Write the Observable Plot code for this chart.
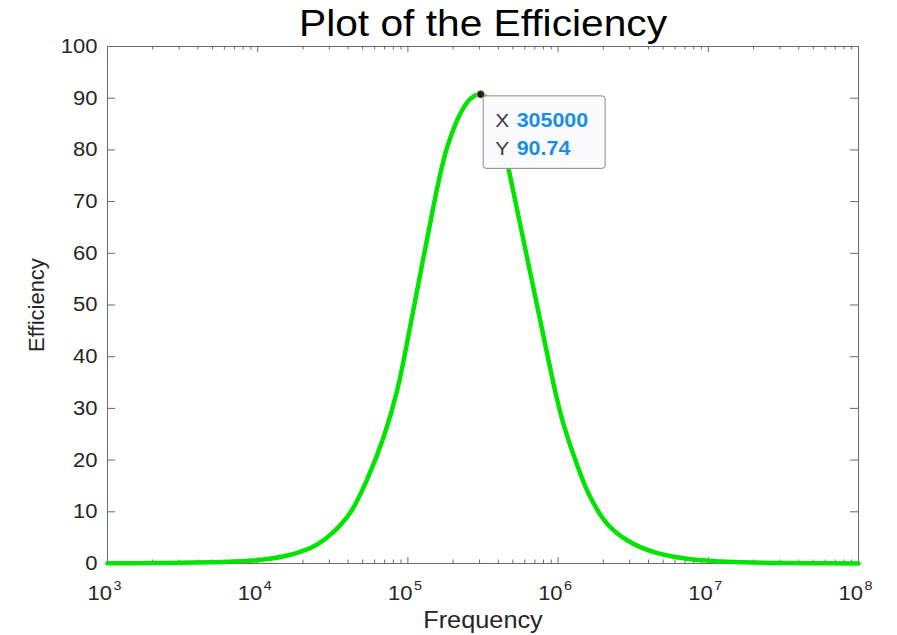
<!DOCTYPE html>
<html><head><meta charset="utf-8">
<script src="https://cdn.jsdelivr.net/npm/d3@7"></script>
<script src="https://cdn.jsdelivr.net/npm/@observablehq/plot@0.6"></script>
<style>html,body{margin:0;padding:0;background:#fff}</style>
</head><body><div id="chart"></div>
<script>
// ---- data ----
const frequency = [1000, 2000, 3000, 5000, 7000, 10000, 15000, 19000, 25000, 32000,
  41500, 53600, 69200, 85000, 107000, 131000, 161000, 183000, 224000, 263000,
  305000, 331000, 363000, 398000, 437000, 470000, 603000, 748000, 962000, 1090000,
  1340000, 1640000, 2120000, 2880000, 4340000, 7240000, 12000000, 20000000, 40000000, 100000000];
const efficiency = [0.03, 0.08, 0.13, 0.25, 0.4, 0.65, 1.4, 2.2, 3.7, 6.1,
  9.9, 16.3, 24.6, 33.6, 48.0, 61.2, 74.2, 80.6, 87.1, 90.0,
  90.74, 90.2, 88.3, 85.0, 80.5, 76.1, 61.0, 48.0, 33.0, 26.8,
  19.0, 12.8, 7.7, 4.5, 2.2, 0.9, 0.4, 0.18, 0.07, 0.02];
const yTicks = [0, 10, 20, 30, 40, 50, 60, 70, 80, 90, 100];
const xTicks = [1e3, 1e4, 1e5, 1e6, 1e7, 1e8];
const xTickBase = ["10", "10", "10", "10", "10", "10"];
const xTickExp = ["3", "4", "5", "6", "7", "8"];
const minorMultipliers = [2, 3, 4, 5, 6, 7, 8, 9];
const tipPoint = [{x: 305000, y: 90.74, xs: "305000", ys: "90.74"}];
const titleText = "Plot of the Efficiency";
const xLabel = "Frequency";
const yLabel = "Efficiency";

const data = frequency.map((f, i) => ({f, e: efficiency[i]}));
const xMinor = [];
xTicks.slice(0, -1).forEach(d => minorMultipliers.forEach(m => xMinor.push(d * m)));
const xLabels = xTicks.map((v, i) => ({v, base: xTickBase[i], exp: xTickExp[i]}));

// ---- layout ----
const W = 897, H = 635, mL = 107, mR = 39, mT = 46, mB = 72;
const pw = W - mL - mR, ph = H - mT - mB;
const axisColor = "#6a6a6a";
const textColor = "#262626";
const font = "'Liberation Sans', Arial, Helvetica, sans-serif";
const stretch = 1.1; // reference text is slightly wider than tall

const chart = Plot.plot({
  width: W, height: H,
  marginLeft: mL, marginRight: mR, marginTop: mT, marginBottom: mB,
  style: {fontFamily: font, fontSize: "20px", color: textColor, background: "#fff", overflow: "visible"},
  x: {type: "log", domain: [1e3, 1e8], axis: null},
  y: {domain: [0, 100], axis: null},
  marks: [
    Plot.frame({stroke: axisColor, strokeWidth: 1}),
    // inward ticks (MATLAB style)
    Plot.tickY(yTicks, {y: d => d, insetRight: pw - 8, stroke: axisColor}),
    Plot.tickY(yTicks, {y: d => d, insetLeft: pw - 8, stroke: axisColor}),
    Plot.tickX(xTicks, {x: d => d, insetTop: ph - 6, stroke: axisColor}),
    Plot.tickX(xTicks, {x: d => d, insetBottom: ph - 6, stroke: axisColor}),
    Plot.tickX(xMinor, {x: d => d, insetTop: ph - 3.5, stroke: axisColor}),
    Plot.tickX(xMinor, {x: d => d, insetBottom: ph - 3.5, stroke: axisColor}),
    // tick labels
    Plot.text(yTicks, {y: d => d, text: d => String(d), frameAnchor: "left", dx: -10,
      textAnchor: "end", lineAnchor: "middle", fontSize: 20, fill: textColor}),
    Plot.text(xLabels, {x: "v", text: "base", frameAnchor: "bottom", dx: 4.5, dy: 36,
      textAnchor: "end", lineAnchor: "bottom", fontSize: 20, fill: textColor}),
    Plot.text(xLabels, {x: "v", text: "exp", frameAnchor: "bottom", dx: 6, dy: 26.5,
      textAnchor: "start", lineAnchor: "bottom", fontSize: 13, fill: textColor}),
    // axis labels and title
    Plot.text([xLabel], {frameAnchor: "bottom", dy: 64, textAnchor: "middle", lineAnchor: "bottom", fontSize: 23, fill: textColor}),
    Plot.text([yLabel], {frameAnchor: "left", dx: -63.5, rotate: -90, textAnchor: "middle", lineAnchor: "bottom", fontSize: 22, fill: textColor}),
    Plot.text([titleText], {frameAnchor: "top", dy: -11, textAnchor: "middle", lineAnchor: "bottom", fontSize: 37, fill: "#000"}),
    // the curve
    Plot.line(data, {x: "f", y: "e", stroke: "#00e400", strokeWidth: 4.5, curve: "catmull-rom"}),
    // data tip
    Plot.rect(tipPoint, {x1: "x", x2: "x", y1: "y", y2: "y",
      insetLeft: 3, insetRight: -125, insetTop: 2, insetBottom: -74.5,
      rx: 3, fill: "#fbfbfd", stroke: "#8c8c8c", strokeWidth: 1}),
    Plot.dot(tipPoint, {x: "x", y: "y", r: 4, fill: "#1e1e1e", stroke: "#e8e0b8", strokeWidth: 0.8}),
    Plot.text(tipPoint, {x: "x", y: "y", text: () => "X", dx: 14.5, dy: 32.4, textAnchor: "start", lineAnchor: "bottom", fontSize: 19, fill: "#3a3a3a"}),
    Plot.text(tipPoint, {x: "x", y: "y", text: "xs", dx: 36, dy: 32.4, textAnchor: "start", lineAnchor: "bottom", fontSize: 19.5, fontWeight: "bold", fill: "#1b8ee6"}),
    Plot.text(tipPoint, {x: "x", y: "y", text: () => "Y", dx: 14.5, dy: 60.7, textAnchor: "start", lineAnchor: "bottom", fontSize: 19, fill: "#3a3a3a"}),
    Plot.text(tipPoint, {x: "x", y: "y", text: "ys", dx: 36, dy: 60.7, textAnchor: "start", lineAnchor: "bottom", fontSize: 19.5, fontWeight: "bold", fill: "#1b8ee6"})
  ]
});
document.getElementById("chart").appendChild(chart);

// widen horizontal texts slightly to match the reference's proportions
chart.querySelectorAll("text").forEach(t => {
  const tr = t.getAttribute("transform") || "";
  if (tr.includes("rotate")) return;
  const len = t.getComputedTextLength();
  if (len > 0) {
    t.setAttribute("textLength", (len * stretch).toFixed(2));
    t.setAttribute("lengthAdjust", "spacingAndGlyphs");
  }
});
</script>
</body></html>
